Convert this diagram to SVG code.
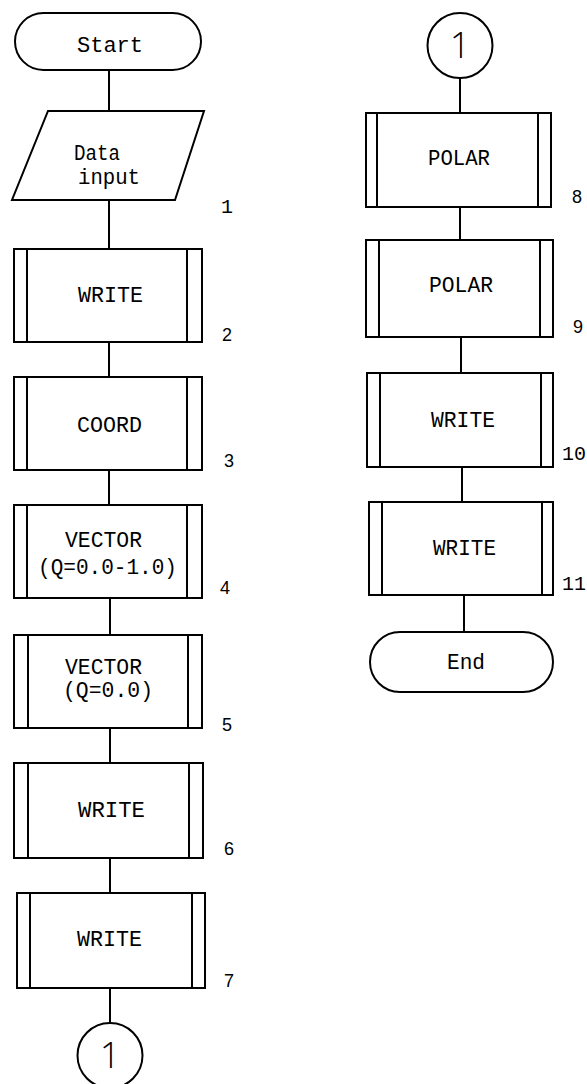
<svg xmlns="http://www.w3.org/2000/svg" width="587" height="1084" viewBox="0 0 587 1084">
<style>
.s{fill:#fff;stroke:#000;stroke-width:2}
.b{fill:none;stroke:#000;stroke-width:2}
.t{font-family:"Liberation Mono",monospace;font-size:22px;text-anchor:middle;fill:#000}
.n{font-family:"Liberation Sans",Arial,sans-serif;font-size:18px;text-anchor:middle;fill:#000}
.m{font-family:"Liberation Mono",monospace;font-size:20px;text-anchor:middle;fill:#000}
.c{font-family:"Open Sans","Liberation Sans",sans-serif;font-weight:300;font-size:36px;text-anchor:middle;fill:#000}
</style>
<rect width="587" height="1084" fill="#fff"/>
<g id="connectors" class="b">
<line x1="109" y1="70" x2="109" y2="111"/>
<line x1="109" y1="200" x2="109" y2="249"/>
<line x1="109" y1="342" x2="109" y2="377"/>
<line x1="109" y1="470" x2="109" y2="505"/>
<line x1="110" y1="598" x2="110" y2="635"/>
<line x1="110" y1="728" x2="110" y2="763"/>
<line x1="110" y1="858" x2="110" y2="893"/>
<line x1="110" y1="988" x2="110" y2="1023"/>
<line x1="460" y1="78" x2="460" y2="113"/>
<line x1="460" y1="207" x2="460" y2="240"/>
<line x1="461" y1="337" x2="461" y2="373"/>
<line x1="462" y1="467" x2="462" y2="502"/>
<line x1="464" y1="595" x2="464" y2="632"/>
</g>
<g id="start">
<rect class="s" x="15" y="13" width="186" height="57" rx="28.5"/>
<text class="t" x="110" y="52" textLength="66" lengthAdjust="spacingAndGlyphs">Start</text>
</g>
<g id="input">
<polygon class="s" points="48,111 204,111 175,200 12,200"/>
<text class="t" x="97" y="160" textLength="46" lengthAdjust="spacingAndGlyphs">Data</text>
<text class="t" x="109" y="184" textLength="62" lengthAdjust="spacingAndGlyphs">input</text>
<text class="m" x="227" y="213">1</text>
</g>
<g id="n2">
<rect class="s" x="14" y="249" width="188" height="93"/>
<line class="b" x1="27" y1="249" x2="27" y2="342"/><line class="b" x1="187" y1="249" x2="187" y2="342"/>
<text class="t" x="110.5" y="302" textLength="65" lengthAdjust="spacingAndGlyphs">WRITE</text>
<text class="n" x="227" y="341">2</text>
</g>
<g id="n3">
<rect class="s" x="14" y="377" width="188" height="93"/>
<line class="b" x1="27" y1="377" x2="27" y2="470"/><line class="b" x1="187" y1="377" x2="187" y2="470"/>
<text class="t" x="109.5" y="432" textLength="65" lengthAdjust="spacingAndGlyphs">COORD</text>
<text class="n" x="229" y="467">3</text>
</g>
<g id="n4">
<rect class="s" x="14" y="505" width="188" height="93"/>
<line class="b" x1="27" y1="505" x2="27" y2="598"/><line class="b" x1="187" y1="505" x2="187" y2="598"/>
<text class="t" x="103.5" y="547" textLength="77" lengthAdjust="spacingAndGlyphs">VECTOR</text>
<text class="t" x="107.5" y="574" textLength="139" lengthAdjust="spacingAndGlyphs">(Q=0.0-1.0)</text>
<text class="n" x="225" y="594">4</text>
</g>
<g id="n5">
<rect class="s" x="14" y="635" width="188" height="93"/>
<line class="b" x1="28" y1="635" x2="28" y2="728"/><line class="b" x1="188" y1="635" x2="188" y2="728"/>
<text class="t" x="103.5" y="674" textLength="77" lengthAdjust="spacingAndGlyphs">VECTOR</text>
<text class="t" x="108" y="697" textLength="90" lengthAdjust="spacingAndGlyphs">(Q=0.0)</text>
<text class="n" x="227" y="731">5</text>
</g>
<g id="n6">
<rect class="s" x="14" y="763" width="189" height="95"/>
<line class="b" x1="28" y1="763" x2="28" y2="858"/><line class="b" x1="189" y1="763" x2="189" y2="858"/>
<text class="t" x="111.5" y="817" textLength="67" lengthAdjust="spacingAndGlyphs">WRITE</text>
<text class="n" x="229" y="855">6</text>
</g>
<g id="n7">
<rect class="s" x="17" y="893" width="188" height="95"/>
<line class="b" x1="30" y1="893" x2="30" y2="988"/><line class="b" x1="192" y1="893" x2="192" y2="988"/>
<text class="t" x="109.5" y="946" textLength="65" lengthAdjust="spacingAndGlyphs">WRITE</text>
<text class="n" x="229" y="987">7</text>
</g>
<g id="conn-out">
<circle class="s" cx="110" cy="1055.5" r="32.5"/>
<text class="c" x="110" y="1068">1</text>
</g>
<g id="conn-in">
<circle class="s" cx="460" cy="45.5" r="32.5"/>
<text class="c" x="460" y="58">1</text>
</g>
<g id="n8">
<rect class="s" x="366" y="113" width="185" height="94"/>
<line class="b" x1="377" y1="113" x2="377" y2="207"/><line class="b" x1="538" y1="113" x2="538" y2="207"/>
<text class="t" x="459" y="165" textLength="62" lengthAdjust="spacingAndGlyphs">POLAR</text>
<text class="n" x="577" y="203">8</text>
</g>
<g id="n9">
<rect class="s" x="366" y="240" width="187" height="97"/>
<line class="b" x1="379" y1="240" x2="379" y2="337"/><line class="b" x1="540" y1="240" x2="540" y2="337"/>
<text class="t" x="461" y="292" textLength="64" lengthAdjust="spacingAndGlyphs">POLAR</text>
<text class="n" x="578" y="333">9</text>
</g>
<g id="n10">
<rect class="s" x="367" y="373" width="186" height="94"/>
<line class="b" x1="380" y1="373" x2="380" y2="467"/><line class="b" x1="541" y1="373" x2="541" y2="467"/>
<text class="t" x="463" y="427" textLength="64" lengthAdjust="spacingAndGlyphs">WRITE</text>
<text class="m" x="574" y="460">10</text>
</g>
<g id="n11">
<rect class="s" x="369" y="502" width="184" height="93"/>
<line class="b" x1="382" y1="502" x2="382" y2="595"/><line class="b" x1="542" y1="502" x2="542" y2="595"/>
<text class="t" x="464.5" y="555" textLength="63" lengthAdjust="spacingAndGlyphs">WRITE</text>
<text class="m" x="574" y="590">11</text>
</g>
<g id="end">
<rect class="s" x="370" y="632" width="183" height="60" rx="30"/>
<text class="t" x="466" y="669" textLength="38" lengthAdjust="spacingAndGlyphs">End</text>
</g>
</svg>
